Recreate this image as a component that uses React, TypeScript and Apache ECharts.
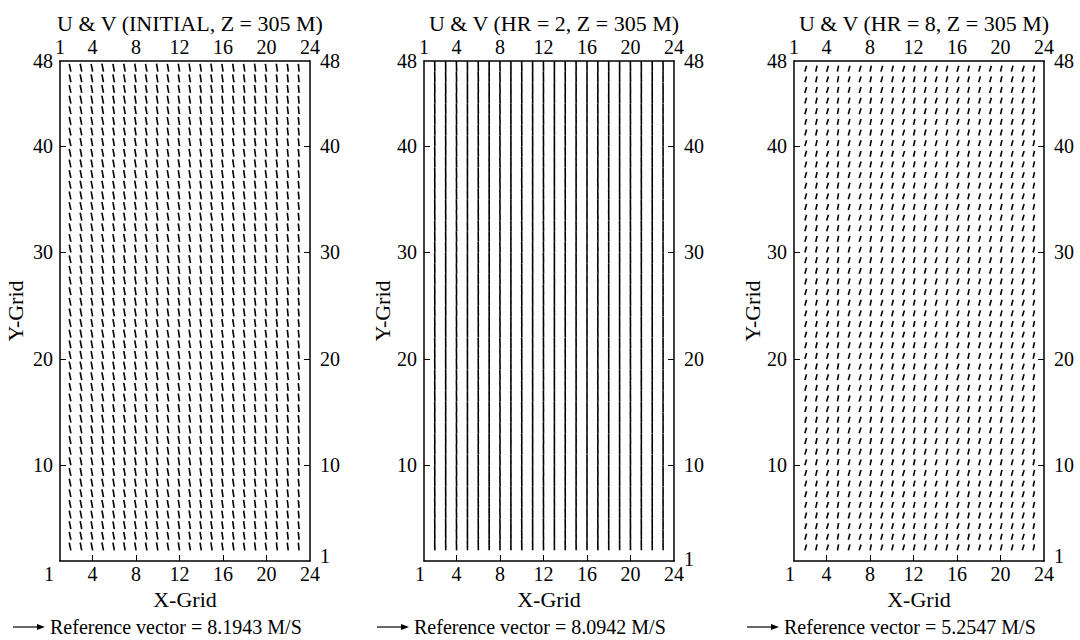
import React, { useEffect, useRef } from "react";
import * as echarts from "echarts";

const TITLES = ["U & V (INITIAL, Z = 305 M)", "U & V (HR = 2, Z = 305 M)", "U & V (HR = 8, Z = 305 M)"];
const REF_SPEEDS = [8.1943, 8.0942, 5.2547];
const X_LABELS = [1, 4, 8, 12, 16, 20, 24];
const X_TICKS = [4, 8, 12, 16, 20];
const Y_LABELS_LEFT = [10, 20, 30, 40, 48];
const Y_LABELS_RIGHT = [1, 10, 20, 30, 40, 48];
const Y_TICKS = [10, 20, 30, 40];
const GRID_COLS = [2, 3, 4, 5, 6, 7, 8, 9, 10, 11, 12, 13, 14, 15, 16, 17, 18, 19, 20, 21, 22, 23];
const GRID_ROWS = [2, 3, 4, 5, 6, 7, 8, 9, 10, 11, 12, 13, 14, 15, 16, 17, 18, 19, 20, 21, 22, 23, 24, 25, 26, 27, 28, 29, 30, 31, 32, 33, 34, 35, 36, 37, 38, 39, 40, 41, 42, 43, 44, 45, 46, 47];

// per-column wind components (m/s)
const U_INITIAL = [-0.42, -0.4, -0.38, -0.4, -0.36, -0.38, -0.35, -0.37, -0.34, -0.36, -0.33, -0.35, -0.32, -0.34, -0.3, -0.32, -0.3, -0.28, -0.3, -0.27, -0.25, -0.22];
const V_INITIAL = [2.0, 2.02, 2.01, 2.03, 2.0, 2.02, 2.04, 2.01, 2.03, 2.0, 2.02, 2.04, 2.01, 2.03, 2.0, 2.02, 2.01, 2.03, 2.0, 2.02, 2.0, 1.98];
const U_HR2 = [-0.05, -0.03, -0.06, -0.02, -0.04, -0.03, -0.05, -0.02, -0.04, -0.03, -0.05, -0.02, -0.04, -0.03, -0.02, -0.04, -0.03, -0.02, -0.04, -0.03, -0.02, -0.03];
const V_HR2 = [2.68, 2.7, 2.69, 2.7, 2.68, 2.7, 2.69, 2.7, 2.68, 2.7, 2.69, 2.7, 2.68, 2.7, 2.69, 2.7, 2.68, 2.7, 2.69, 2.7, 2.68, 2.66];
const U_HR8 = [0.28, 0.22, 0.3, 0.18, 0.26, 0.3, 0.2, 0.28, 0.24, 0.3, 0.22, 0.26, 0.28, 0.24, 0.3, 0.22, 0.26, 0.28, 0.24, 0.26, 0.3, 0.22];
const V_HR8 = [0.97, 0.98, 0.96, 0.99, 0.97, 0.96, 0.98, 0.97, 0.98, 0.96, 0.98, 0.97, 0.96, 0.98, 0.96, 0.98, 0.97, 0.96, 0.98, 0.97, 0.96, 0.98];

const U_SETS = [U_INITIAL, U_HR2, U_HR8];
const V_SETS = [V_INITIAL, V_HR2, V_HR8];

const FONT = "Liberation Serif";
const GRID_LEFTS = [60, 424, 794];
const GRID_W = 250;
const GRID_TOP = 61;
const GRID_H = 500;
const LEGEND_LEN = 32;
const Y_NAME_GAPS = [34, 28, 28];
const FIRST_X_SHIFT = [22, 8, 8];
const FIRST_Y_SHIFT = [-10, -4, -10];

export default function App() {
  const ref = useRef<HTMLDivElement>(null);
  useEffect(() => {
    if (!ref.current) return;
    const chart = echarts.init(ref.current, null, { renderer: "svg" });
    const axisLine = { show: true, onZero: false, lineStyle: { color: "#000", width: 1.5 } };
    const labelStyle = { color: "#000", fontFamily: FONT, fontSize: 20 };
    const grids: any[] = [];
    const xAxes: any[] = [];
    const yAxes: any[] = [];
    const series: any[] = [];
    const titles: any[] = [];
    const graphics: any[] = [];
    for (let i = 0; i < 3; i++) {
      const left = GRID_LEFTS[i];
      grids.push({ left, top: GRID_TOP, width: GRID_W, height: GRID_H, show: false });
      titles.push({
        text: TITLES[i],
        left: left + GRID_W / 2,
        textAlign: "center",
        top: 7,
        textStyle: { fontFamily: FONT, fontSize: 22, fontWeight: "normal", color: "#000" },
      });
      const shiftRich = {
        sx: { ...labelStyle, padding: [0, FIRST_X_SHIFT[i], 0, 0] },
      };
      const shiftRichY = {
        sy: { ...labelStyle, padding: FIRST_Y_SHIFT[i] >= 0 ? [FIRST_Y_SHIFT[i], 0, 0, 0] : [0, 0, -FIRST_Y_SHIFT[i], 0] },
      };
      xAxes.push({
        type: "value", gridIndex: i, min: 1, max: 24, position: "bottom",
        axisLine, splitLine: { show: false },
        axisTick: { show: true, inside: true, length: 6, customValues: X_TICKS, lineStyle: { color: "#000" } },
        axisLabel: {
          ...labelStyle, margin: 3, customValues: X_LABELS,
          formatter: (v: number) => (v === 1 ? "{sx|1}" : String(v)),
          rich: shiftRich,
        },
        name: "X-Grid", nameLocation: "middle", nameGap: 26,
        nameTextStyle: { fontFamily: FONT, fontSize: 22, color: "#000" },
      });
      xAxes.push({
        type: "value", gridIndex: i, min: 1, max: 24, position: "top",
        axisLine, splitLine: { show: false },
        axisTick: { show: false },
        axisLabel: { ...labelStyle, margin: 4, customValues: X_LABELS },
      });
      yAxes.push({
        type: "value", gridIndex: i, min: 1, max: 48, position: "left",
        axisLine, splitLine: { show: false },
        axisTick: { show: true, inside: true, length: 6, customValues: Y_TICKS, lineStyle: { color: "#000" } },
        axisLabel: { ...labelStyle, margin: 7, customValues: Y_LABELS_LEFT },
        name: "Y-Grid", nameLocation: "middle", nameGap: Y_NAME_GAPS[i],
        nameTextStyle: { fontFamily: FONT, fontSize: 22, color: "#000" },
      });
      yAxes.push({
        type: "value", gridIndex: i, min: 1, max: 48, position: "right",
        axisLine, splitLine: { show: false },
        axisTick: { show: true, inside: true, length: 6, customValues: Y_TICKS, lineStyle: { color: "#000" } },
        axisLabel: {
          ...labelStyle, margin: 10, customValues: Y_LABELS_RIGHT,
          formatter: (v: number) => (v === 1 ? "{sy|1}" : String(v)),
          rich: shiftRichY,
        },
      });
      const data: number[][] = [];
      GRID_COLS.forEach((x, ci) => {
        GRID_ROWS.forEach((y) => {
          data.push([x, y, U_SETS[i][ci], V_SETS[i][ci]]);
        });
      });
      const scale = LEGEND_LEN / REF_SPEEDS[i];
      series.push({
        type: "custom",
        xAxisIndex: i * 2,
        yAxisIndex: i * 2,
        clip: false,
        data,
        renderItem: (params: any, api: any) => {
          const p = api.coord([api.value(0), api.value(1)]);
          const u = api.value(2);
          const v = api.value(3);
          return {
            type: "line",
            shape: { x1: p[0], y1: p[1], x2: p[0] + u * scale, y2: p[1] - v * scale },
            style: { stroke: "#000", lineWidth: 1.6 },
          };
        },
      });
      const ax = left - 47;
      const ay = 627;
      graphics.push({
        type: "line",
        shape: { x1: ax, y1: ay, x2: ax + LEGEND_LEN - 6, y2: ay },
        style: { stroke: "#000", lineWidth: 1.2 },
      });
      graphics.push({
        type: "polygon",
        shape: { points: [[ax + LEGEND_LEN - 8, ay - 3], [ax + LEGEND_LEN, ay], [ax + LEGEND_LEN - 8, ay + 3]] },
        style: { fill: "#000" },
      });
      graphics.push({
        type: "text",
        x: ax + LEGEND_LEN + 5,
        y: ay,
        style: {
          text: `Reference vector = ${REF_SPEEDS[i].toFixed(4)} M/S`,
          fontFamily: FONT, fontSize: 20, fill: "#000", verticalAlign: "middle", align: "left",
        },
      });
    }
    chart.setOption({
      animation: false,
      backgroundColor: "#fff",
      title: titles,
      grid: grids,
      xAxis: xAxes,
      yAxis: yAxes,
      series,
      graphic: graphics,
    });
    return () => chart.dispose();
  }, []);
  return <div ref={ref} style={{ position: "fixed", left: 0, top: 0, width: 1080, height: 640 }} />;
}
